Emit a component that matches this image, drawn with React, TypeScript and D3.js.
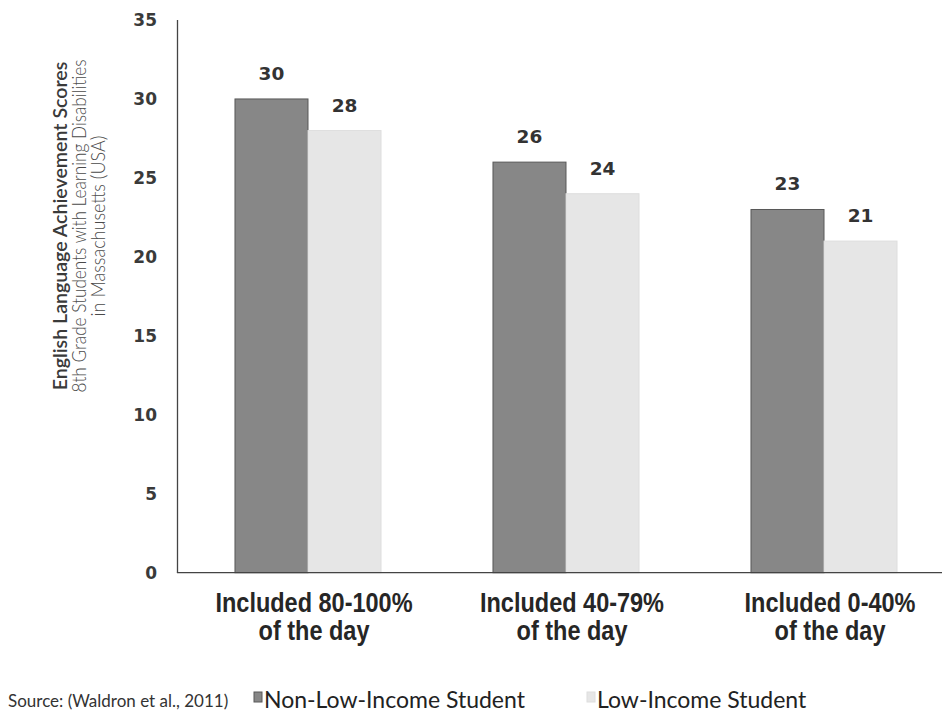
import React from "react";
import * as d3 from "d3";

// Inclusion levels (share of the school day spent in general education)
const categoryLines: string[][] = [
  ["Included 80-100%", "of the day"],
  ["Included 40-79%", "of the day"],
  ["Included 0-40%", "of the day"],
];
const categories = ["80-100", "40-79", "0-40"];
const seriesNames = ["Non-Low-Income Student", "Low-Income Student"];
const nonLowIncome = [30, 26, 23];
const lowIncome = [28, 24, 21];
const yTicks = [0, 5, 10, 15, 20, 25, 30, 35];
const titleLines = [
  "English Language Achievement Scores",
  "8th Grade Students with Learning Disabilities",
  "in Massachusetts (USA)",
];
const sourceNote = "Source: (Waldron et al., 2011)";

const W = 942;
const H = 713;
const AXIS_X = 177.5;
const BASE_Y = 572.7;
const TOP_Y = 20;

const seriesFill = ["#878787", "#e6e6e6"];
const seriesStroke = ["#585858", "#dedede"];

// horizontal squeeze for the title lines (rotated text)
const titleSqueeze = [0.98, 0.86, 0.9];

export default function App() {
  const x0 = d3
    .scaleBand<string>()
    .domain(categories)
    .range([179, 953])
    .paddingInner(0.434)
    .paddingOuter(0.217);
  const x1 = d3
    .scaleBand<string>()
    .domain(seriesNames)
    .range([0, x0.bandwidth()]);
  const y = d3.scaleLinear().domain([0, 35]).range([BASE_Y, TOP_Y]);

  const values = [nonLowIncome, lowIncome];
  const numFont = "'DejaVu Sans', Verdana, sans-serif";
  const labelFont = "'Liberation Sans', Arial, sans-serif";
  const textFont = "Lato, 'Open Sans', sans-serif";

  return (
    <svg
      width={W}
      height={H}
      viewBox={`0 0 ${W} ${H}`}
      style={{ position: "absolute", left: 0, top: 0, background: "#fff" }}
    >
      {/* Y axis title */}
      {titleLines.map((t, i) => (
        <text
          key={t}
          transform={`translate(${67 + i * 19},226) rotate(-90) scale(${titleSqueeze[i]},1)`}
          textAnchor="middle"
          fontFamily={textFont}
          fontSize={20}
          fontWeight={i === 0 ? 600 : 300}
          fill={i === 0 ? "#3a3a3a" : "#4a4a4a"}
        >
          {t}
        </text>
      ))}

      {/* Y tick labels */}
      {yTicks.map((t) => (
        <text
          key={t}
          x={157}
          y={y(t)}
          dy="0.36em"
          textAnchor="end"
          fontFamily={numFont}
          fontWeight="bold"
          fontSize={17}
          fill="#3a3a3a"
        >
          {t}
        </text>
      ))}

      {/* Bars and value labels */}
      {categories.map((c, ci) => (
        <g key={c} transform={`translate(${x0(c)},0)`}>
          {seriesNames.map((s, si) => {
            const v = values[si][ci];
            const bx = x1(s)!;
            return (
              <g key={s}>
                <rect
                  x={bx}
                  y={y(v)}
                  width={x1.bandwidth()}
                  height={BASE_Y - y(v)}
                  fill={seriesFill[si]}
                  stroke={seriesStroke[si]}
                  strokeWidth={1}
                />
                <text
                  x={bx + x1.bandwidth() / 2}
                  y={y(v) - 19}
                  textAnchor="middle"
                  fontFamily={numFont}
                  fontWeight="bold"
                  fontSize={18.5}
                  fill="#333"
                >
                  {v}
                </text>
              </g>
            );
          })}
        </g>
      ))}

      {/* Axes */}
      <line x1={AXIS_X} x2={AXIS_X} y1={TOP_Y} y2={BASE_Y} stroke="#444" strokeWidth={1.3} />
      <line x1={AXIS_X - 0.6} x2={W} y1={BASE_Y} y2={BASE_Y} stroke="#444" strokeWidth={1.3} />

      {/* Category labels */}
      {categories.map((c, ci) => {
        const cx = x0(c)! + x0.bandwidth() / 2 + 6;
        return (
          <text
            key={c}
            transform={`translate(${cx},0) scale(0.87,1)`}
            textAnchor="middle"
            fontFamily={labelFont}
            fontWeight="bold"
            fontSize={27}
            fill="#262626"
          >
            <tspan x={0} y={612}>
              {categoryLines[ci][0]}
            </tspan>
            <tspan x={0} y={640}>
              {categoryLines[ci][1]}
            </tspan>
          </text>
        );
      })}

      {/* Legend */}
      {seriesNames.map((s, si) => {
        const lx = si === 0 ? 254 : 587;
        return (
          <g key={s}>
            <rect
              x={lx}
              y={692}
              width={8}
              height={10}
              fill={seriesFill[si]}
              stroke={seriesStroke[si]}
              strokeWidth={1}
            />
            <text x={lx + 10} y={708} fontFamily={textFont} fontSize={23} fill="#222">
              {s}
            </text>
          </g>
        );
      })}

      {/* Source note */}
      <text x={8} y={707} fontFamily={textFont} fontSize={17} fill="#333">
        {sourceNote}
      </text>
    </svg>
  );
}
